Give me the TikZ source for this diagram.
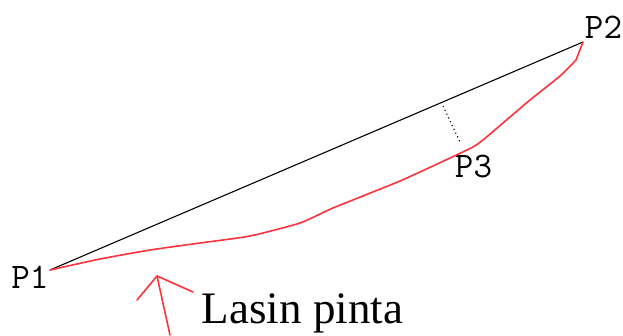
\documentclass[tikz,border=0pt]{standalone}
\usepackage{fontspec}
\setmainfont{Liberation Serif}
\definecolor{lred}{RGB}{255,50,60}
\begin{document}
\begin{tikzpicture}[x=1pt,y=-1pt,
  ptlabel/.style={font=\ttfamily\fontsize{36}{36}\selectfont, inner sep=0pt},
  chord/.style={black, line width=1.1pt},
  arc/.style={lred, line width=1.6pt, line join=round, line cap=round},
  sag/.style={black, line width=1.1pt, dash pattern=on 1.2pt off 3pt}]
\useasboundingbox (0,0) rectangle (623,335);
\coordinate (p1) at (50,270);
\coordinate (p2) at (583,42);
\coordinate (p3) at (473,147);
\coordinate (d1) at (443,106);
\coordinate (d2) at (460,142);
\node[ptlabel] (l1) at (30,277) {P1};
\node[ptlabel] (l2) at (603.5,27.5) {P2};
\node[ptlabel] (l3) at (473.5,166) {P3};
\draw[chord] (p1) -- (p2);
\draw[arc] plot[smooth, tension=0.35] coordinates {(50,270) (100,259) (150,250) (200,243) (250,236) (300,223)
  (333,208) (400,181) (450,158) (473,147) (483,140) (510,117)
  (530,100) (560,76) (576,60)} -- (p2);
\draw[sag] (d1) -- (d2);
\coordinate (tip) at (157,276);
\coordinate (tail) at (170,335);
\coordinate (bl) at (137,300);
\coordinate (br) at (193,292);
\draw[arc] (tail) -- (tip);
\draw[arc] (bl) -- (tip) -- (br);
\node[font=\fontsize{45}{45}\selectfont, inner sep=0pt, anchor=base] (lab) at (302.5,323) {Lasin pinta};
\end{tikzpicture}
\end{document}
